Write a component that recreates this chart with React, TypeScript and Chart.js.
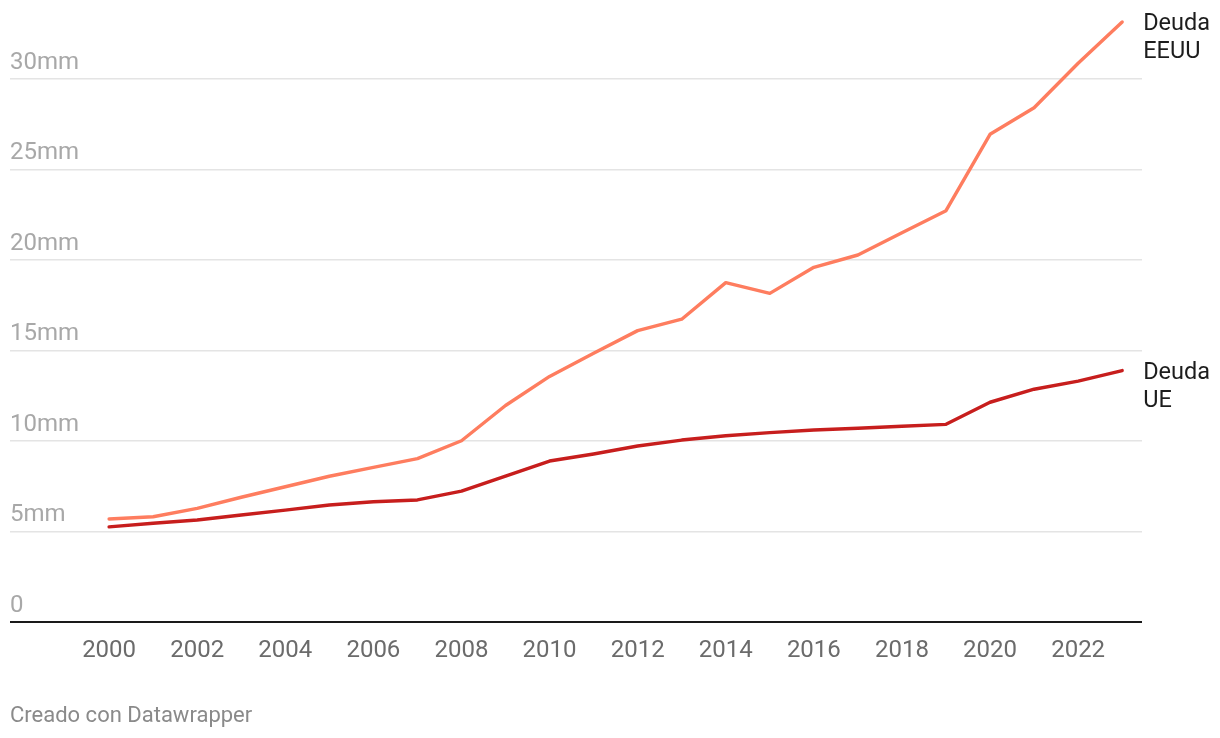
import React, { useEffect, useRef } from "react";
import { Chart, registerables } from "chart.js";

Chart.register(...registerables);

const years = [2000, 2001, 2002, 2003, 2004, 2005, 2006, 2007, 2008, 2009, 2010, 2011, 2012, 2013, 2014, 2015, 2016, 2017, 2018, 2019, 2020, 2021, 2022, 2023];
const usDebt = [5.68, 5.8, 6.26, 6.88, 7.46, 8.04, 8.53, 9.01, 10.0, 11.95, 13.56, 14.84, 16.09, 16.72, 18.74, 18.15, 19.59, 20.27, 21.5, 22.72, 26.94, 28.41, 30.87, 33.15];
const euDebt = [5.24, 5.44, 5.62, 5.9, 6.17, 6.45, 6.63, 6.73, 7.22, 8.05, 8.88, 9.27, 9.71, 10.04, 10.28, 10.45, 10.6, 10.69, 10.8, 10.91, 12.13, 12.85, 13.3, 13.88];
const seriesLabels = [["Deuda", "EEUU"], ["Deuda", "UE"]];
const seriesColors = ["#fe7d5f", "#c71e1d"];
const xTicks = [2000, 2002, 2004, 2006, 2008, 2010, 2012, 2014, 2016, 2018, 2020, 2022];
const yTicks = [0, 5, 10, 15, 20, 25, 30];
const yTickLabels = ["0", "5mm", "10mm", "15mm", "20mm", "25mm", "30mm"];
const footerText = "Creado con Datawrapper";

const FONT = "Roboto, 'Noto Sans', sans-serif";

const endLabels = {
  id: "endLabels",
  afterDatasetsDraw(chart: any) {
    const ctx = chart.ctx;
    ctx.save();
    ctx.font = `23.5px ${FONT}`;
    ctx.fillStyle = "#1d1d1d";
    ctx.textAlign = "left";
    ctx.textBaseline = "middle";
    chart.data.datasets.forEach((ds: any, di: number) => {
      const meta = chart.getDatasetMeta(di);
      const pts = meta.data;
      const last = pts[pts.length - 1];
      if (!last) return;
      const lines = seriesLabels[di];
      lines.forEach((t: string, li: number) => {
        ctx.fillText(t, last.x + 21, last.y + 2.5 + li * 28);
      });
    });
    ctx.restore();
  },
};

export default function App() {
  const ref = useRef<HTMLCanvasElement | null>(null);

  useEffect(() => {
    if (!ref.current) return;
    const chart = new Chart(ref.current, {
      type: "line",
      data: {
        datasets: [
          {
            label: "Deuda EEUU",
            data: years.map((x, i) => ({ x, y: usDebt[i] })),
            borderColor: seriesColors[0],
            borderWidth: 3.4,
            pointRadius: 0,
            borderCapStyle: "round",
            borderJoinStyle: "round",
            tension: 0,
          },
          {
            label: "Deuda UE",
            data: years.map((x, i) => ({ x, y: euDebt[i] })),
            borderColor: seriesColors[1],
            borderWidth: 3.4,
            pointRadius: 0,
            borderCapStyle: "round",
            borderJoinStyle: "round",
            tension: 0,
          },
        ],
      },
      options: {
        animation: false,
        responsive: false,
        maintainAspectRatio: false,
        layout: { padding: { left: 10, right: 78, top: 6.6, bottom: 76.3 } },
        plugins: { legend: { display: false }, tooltip: { enabled: false } },
        scales: {
          x: {
            type: "linear",
            min: 1997.75,
            max: 2023.45,
            grid: { display: false, drawTicks: false },
            border: { display: false },
            afterBuildTicks: (scale: any) => {
              scale.ticks = xTicks.map((v) => ({ value: v }));
            },
            afterFit: (scale: any) => {
              scale.height = 40;
              scale.paddingLeft = 0;
              scale.paddingRight = 0;
            },
            ticks: {
              autoSkip: false,
              maxRotation: 0,
              padding: 15,
              color: "#6b6b6b",
              font: { family: FONT, size: 24 },
              callback: (v: any) => String(v),
            },
          },
          y: {
            type: "linear",
            min: 0,
            max: 34,
            border: { display: false },
            grid: {
              drawTicks: false,
              color: (c: any) => (c.tick && c.tick.value === 0 ? "#1a1a1a" : "#e4e4e4"),
              lineWidth: (c: any) => (c.tick && c.tick.value === 0 ? 2 : 1.4),
            },
            afterBuildTicks: (scale: any) => {
              scale.ticks = yTicks.map((v) => ({ value: v }));
            },
            afterFit: (scale: any) => {
              scale.width = 0;
              scale.paddingTop = 0;
              scale.paddingBottom = 0;
            },
            ticks: {
              mirror: true,
              padding: 0,
              labelOffset: -16,
              color: "#a8a8a8",
              font: { family: FONT, size: 24 },
              callback: (v: any) => {
                const i = yTicks.indexOf(Number(v));
                return i >= 0 ? yTickLabels[i] : "";
              },
            },
          },
        },
      },
      plugins: [endLabels],
    } as any);
    return () => chart.destroy();
  }, []);

  return (
    <div style={{ position: "absolute", left: 0, top: 0, width: 1220, height: 738, background: "#fff" }}>
      <canvas ref={ref} width={1220} height={738} style={{ position: "absolute", left: 0, top: 0, width: 1220, height: 738 }} />
      <div
        style={{
          position: "absolute",
          left: 10,
          top: 704,
          fontFamily: FONT,
          fontSize: 22,
          lineHeight: "22px",
          color: "#8a8a8a",
          whiteSpace: "nowrap",
        }}
      >
        {footerText}
      </div>
    </div>
  );
}
